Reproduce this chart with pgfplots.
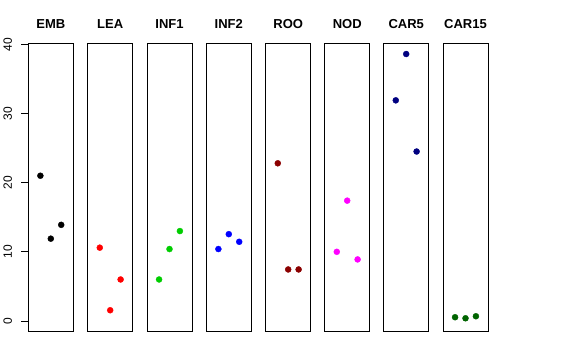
\documentclass[border=0pt]{standalone}
\usepackage{pgfplots}
\pgfplotsset{compat=1.18}
\usepackage{fontspec}
\setmainfont{Liberation Sans}[BoldFont={Liberation Sans Bold}]
\definecolor{gthree}{RGB}{0,205,0}
\definecolor{dred}{RGB}{139,0,0}
\definecolor{navyc}{RGB}{0,0,128}
\definecolor{dgreen}{RGB}{0,100,0}
\definecolor{magc}{RGB}{255,0,255}
\definecolor{redc}{RGB}{255,0,0}
\definecolor{bluec}{RGB}{0,0,255}
\pgfplotsset{
  panel/.style={
    anchor=south west, scale only axis, width=45bp, height=287.7bp,
    xmin=-0.16, xmax=4.16, ymin=-1.45, ymax=40.15,
    xtick=\empty, ytick=\empty,
    axis line style={line width=0.75bp, black},
    title style={at={(0.5,1)}, anchor=base, yshift=9.3bp, font=\fontsize{13bp}{15bp}\selectfont\bfseries, inner sep=0pt},
    clip=false,
  },
}
\newcommand{\panel}[4]{%
\begin{axis}[panel, at={(#1bp,29bp)}, title={\textbf{#2}}]
\addplot[only marks, mark=*, mark size=3bp, color=#3, mark options={draw=#3, fill=#3}] coordinates {#4};
\end{axis}}
\begin{document}
\begin{tikzpicture}
\useasboundingbox (0,0) rectangle (576bp,360bp);
\begin{axis}[panel, at={(28.3bp,29bp)}, title={\textbf{EMB}},
  ytick={0,10,20,30,40}, ytick pos=left, tick align=outside, major tick length=7bp,
  tick style={line width=0.75bp, black}, yticklabel shift=9bp,
  yticklabel style={rotate=90, anchor=south, inner sep=0pt, font=\fontsize{12bp}{14bp}\selectfont},
  /pgf/number format/assume math mode=true]
\addplot[only marks, mark=*, mark size=3bp, color=black] coordinates {(1,21.0) (2,11.9) (3,13.9)};
\end{axis}
\panel{87.7}{LEA}{redc}{(1,10.6) (2,1.55) (3,6.0)}
\panel{147}{INF1}{gthree}{(1,6.0) (2,10.4) (3,13.0)}
\panel{206.3}{INF2}{bluec}{(1,10.4) (2,12.55) (3,11.45)}
\panel{265.7}{ROO}{dred}{(1,22.8) (2,7.45) (3,7.45)}
\panel{324.7}{NOD}{magc}{(1,10.0) (2,17.4) (3,8.9)}
\panel{383.7}{CAR5}{navyc}{(1,31.9) (2,38.6) (3,24.5)}
\panel{443}{CAR15}{dgreen}{(1,0.54) (2,0.39) (3,0.68)}
\end{tikzpicture}
\end{document}
